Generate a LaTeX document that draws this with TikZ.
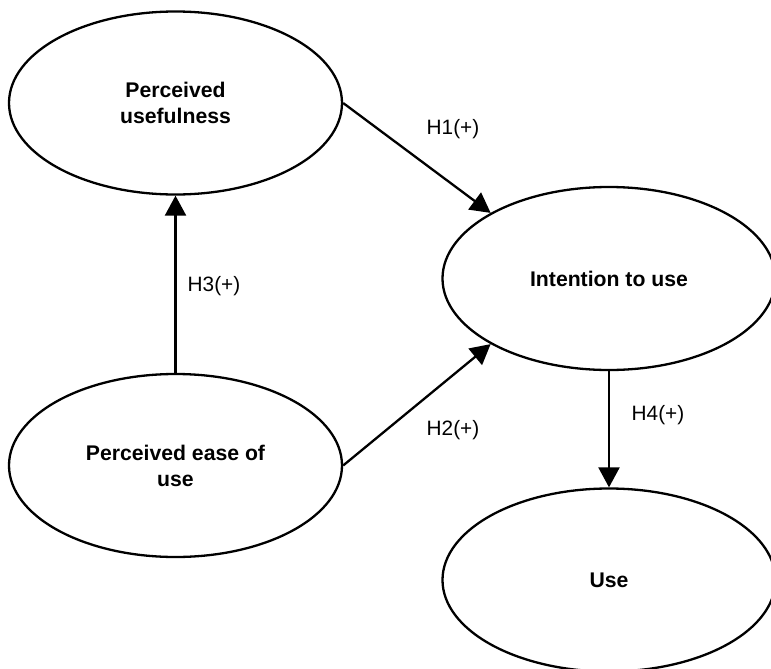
\documentclass[tikz,border=0pt]{standalone}
\usepackage{fontspec}
\setmainfont{Liberation Sans}
\usetikzlibrary{shapes.geometric,arrows.meta}

\begin{document}
\begin{tikzpicture}[x=0.5pt,y=-0.5pt,
  construct/.style={ellipse,draw,line width=1.15pt,inner sep=0pt,
    minimum width=166.5pt,minimum height=91.5pt,align=center,
    font=\fontsize{10.6}{13}\selectfont\bfseries},
  path/.style={line width=1.15pt,-{Triangle[length=10pt,width=10.5pt]}},
  hyp/.style={font=\fontsize{10.4}{13}\selectfont}]
  \useasboundingbox (0,0) rectangle (771,669);

  % constructs of the model
  \node[construct] (pu)  at (175.5,103)   {Perceived\\usefulness};
  \node[construct] (peu) at (175.5,465.5) {Perceived ease of\\use};
  \node[construct] (iu)  at (609,278.5)   {Intention to use};
  \node[construct] (use) at (609,580)     {Use};

  % hypothesised paths
  \draw[path] (pu.east)   -- (iu.151);
  \draw[path] (peu.east)  -- (iu.209);
  \draw[path] (peu.north) -- (pu.south);
  \draw[path] (iu.south)  -- (use.north);

  % path labels
  \node[hyp] (h1) at (453,129) {H1(+)};
  \node[hyp] (h2) at (453,430) {H2(+)};
  \node[hyp] (h3) at (214,286) {H3(+)};
  \node[hyp] (h4) at (658,415) {H4(+)};
\end{tikzpicture}
\end{document}
